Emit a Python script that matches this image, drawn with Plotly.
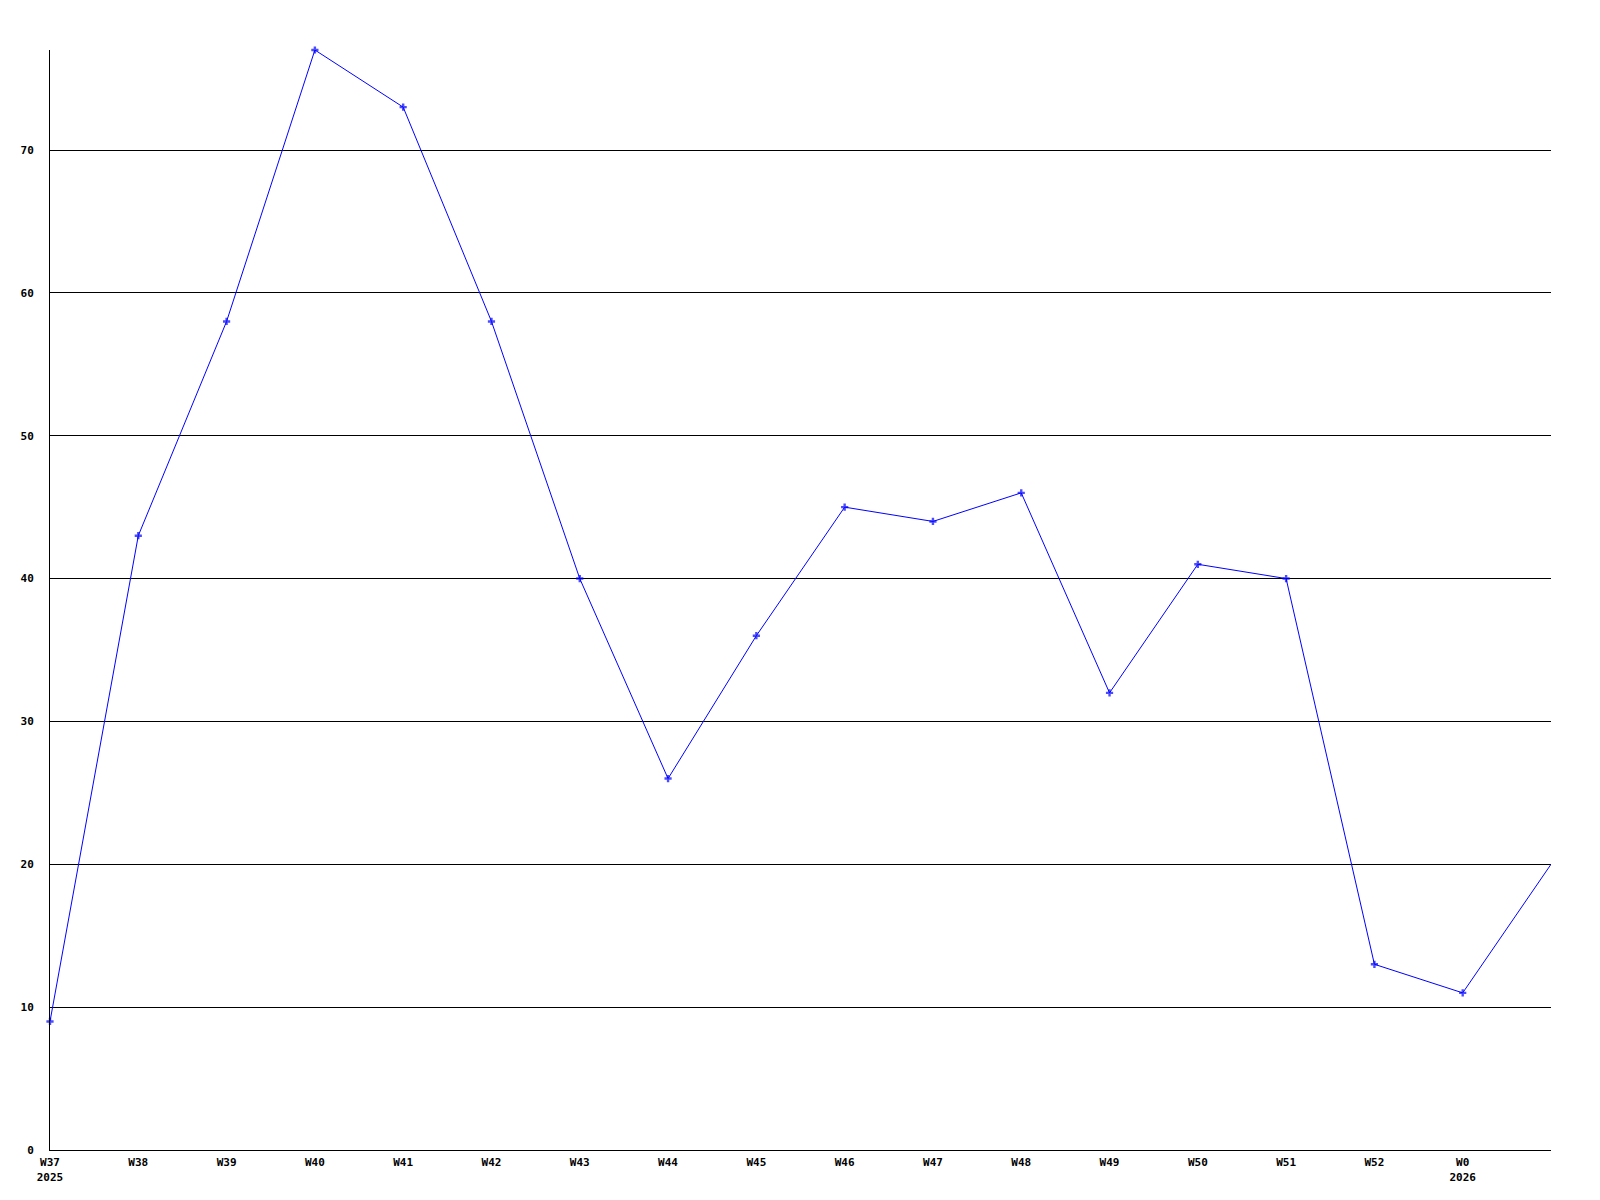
import plotly.graph_objects as go

week_labels = ["W37<br>2025", "W38", "W39", "W40", "W41", "W42", "W43", "W44", "W45",
               "W46", "W47", "W48", "W49", "W50", "W51", "W52", "W0<br>2026", ""]
values = [9, 43, 58, 77, 73, 58, 40, 26, 36, 45, 44, 46, 32, 41, 40, 13, 11, 20]
y_ticks = [0, 10, 20, 30, 40, 50, 60, 70]

x_pos = list(range(len(values)))
# the final (unlabelled) point has no marker in the reference
marker_sizes = [6] * (len(values) - 1) + [0]

fig = go.Figure()
fig.add_trace(go.Scatter(
    x=x_pos, y=values, mode="lines+markers",
    line=dict(color="#0000ff", width=1),
    marker=dict(symbol="cross", size=marker_sizes, color="#0000ff", line=dict(width=0)),
    cliponaxis=False, showlegend=False,
))

tick_font = dict(family="DejaVu Sans Mono", size=11, color="#000000", weight="bold")

fig.update_layout(
    width=1600, height=1200,
    margin=dict(l=42, r=57, t=42, b=58),
    paper_bgcolor="white", plot_bgcolor="white",
    xaxis=dict(
        range=[0, len(values) - 1],
        tickmode="array", tickvals=x_pos, ticktext=week_labels,
        showgrid=False, zeroline=False,
        showline=True, linecolor="black", linewidth=1,
        ticks="outside", ticklen=2, tickcolor="rgba(0,0,0,0)",
        tickfont=tick_font,
    ),
    yaxis=dict(
        range=[0, 77],
        tickmode="array", tickvals=y_ticks,
        showgrid=True, gridcolor="black", gridwidth=1,
        zeroline=False,
        showline=True, linecolor="black", linewidth=1,
        ticks="outside", ticklen=13, tickcolor="rgba(0,0,0,0)",
        tickfont=tick_font,
    ),
)

fig.write_html("out.html")
